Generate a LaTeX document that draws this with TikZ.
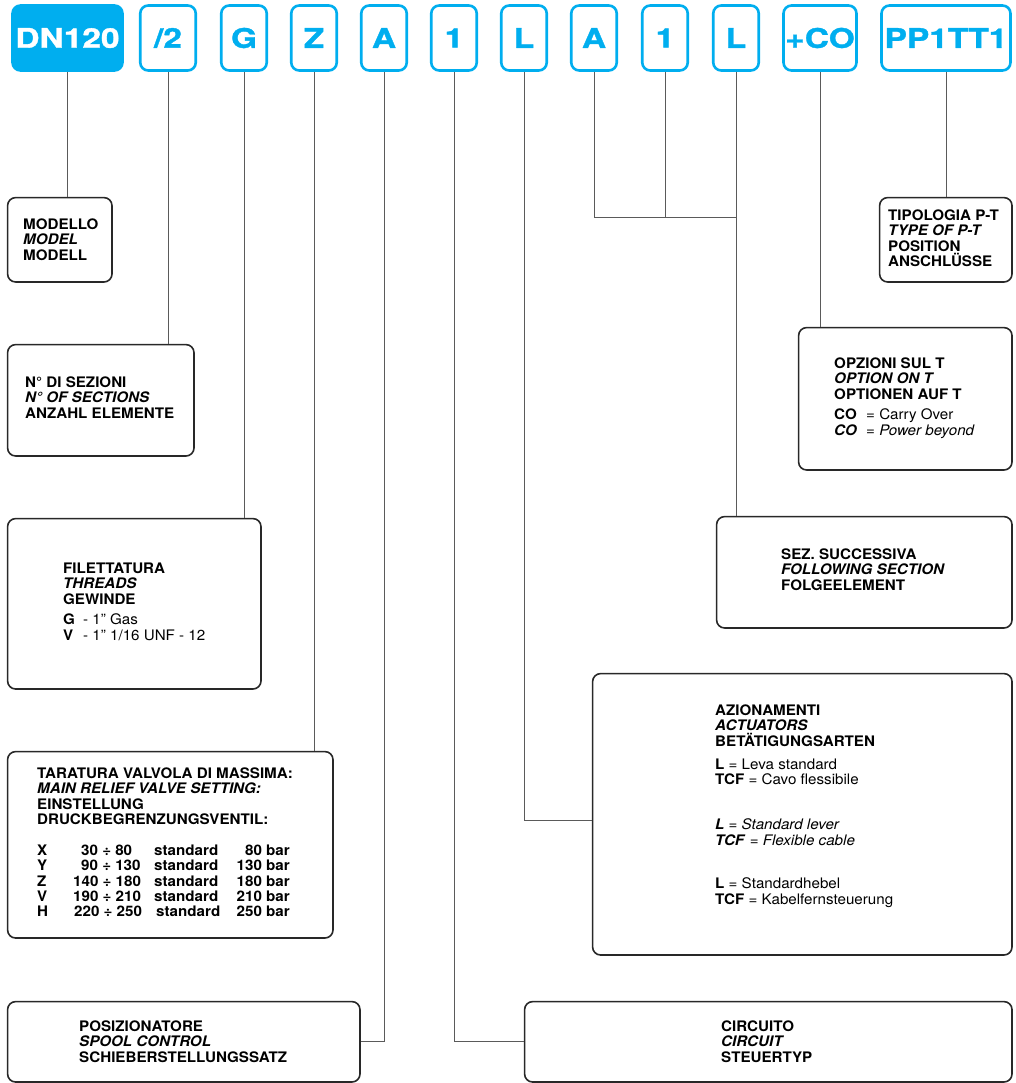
\documentclass[tikz,border=0pt]{standalone}
\usepackage{fontspec}
\setmainfont{TeX Gyre Heros}[FakeStretch=1.045]
\newfontfamily\codefont{TeX Gyre Heros}[FakeStretch=1.24, FakeBold=1.3]
\definecolor{cy}{RGB}{0,174,239}
\definecolor{boxc}{RGB}{40,40,40}
\definecolor{connc}{RGB}{90,90,90}
\begin{document}
\begin{tikzpicture}[x=1pt,y=-1pt,
  code/.style={draw=cy, line width=2.6pt, rounded corners=8pt, minimum height=65pt, inner sep=0pt, text=cy, font=\codefont\bfseries\fontsize{27}{27}\selectfont},
  codefill/.style={code, fill=cy, text=white},
  infobox/.style={draw=boxc, line width=1.6pt, rounded corners=8pt, anchor=north west, inner sep=0pt},
  txt/.style={anchor=north west, inner sep=0pt, align=left, font=\fontsize{14.5}{15.5}\selectfont\bfseries},
  row/.style={anchor=base west, inner sep=0pt, font=\fontsize{14.5}{15.5}\selectfont\bfseries},
  rowr/.style={anchor=base east, inner sep=0pt, font=\fontsize{14.5}{15.5}\selectfont\bfseries},
  conn/.style={draw=connc, line width=1pt}]
\useasboundingbox (0,0) rectangle (1016,1083);

% code boxes
\node[codefill, minimum width=110pt] (c1) at (67.5,38) {DN120};
\node[code, minimum width=55.5pt] (c2) at (168,38) {/2};
\node[code, minimum width=45.5pt] (c3) at (244,38) {G};
\node[code, minimum width=45.5pt] (c4) at (314,38) {Z};
\node[code, minimum width=45.5pt] (c5) at (384,38) {A};
\node[code, minimum width=45.5pt] (c6) at (454,38) {1};
\node[code, minimum width=45.5pt] (c7) at (524,38) {L};
\node[code, minimum width=45.5pt] (c8) at (594,38) {A};
\node[code, minimum width=45.5pt] (c9) at (665,38) {1};
\node[code, minimum width=45.5pt] (c10) at (736,38) {L};
\node[code, minimum width=73pt] (c11) at (820,38) {+CO};
\node[code, minimum width=129pt] (c12) at (946,38) {PP1TT1};

% info boxes
\node[infobox, minimum width=104.4pt, minimum height=84.4pt] (mod) at (6.8,196.8) {};
\node[infobox, minimum width=186.4pt, minimum height=111.4pt] (nsz) at (6.8,343.8) {};
\node[infobox, minimum width=253.4pt, minimum height=170.4pt] (fil) at (6.8,517.8) {};
\node[infobox, minimum width=325.4pt, minimum height=186.4pt] (tar) at (6.8,750.8) {};
\node[infobox, minimum width=352.4pt, minimum height=80.4pt] (pos) at (6.8,1000.8) {};
\node[infobox, minimum width=487.4pt, minimum height=80.4pt] (cir) at (523.8,1000.8) {};
\node[infobox, minimum width=419.4pt, minimum height=281.4pt] (azi) at (591.8,672.8) {};
\node[infobox, minimum width=295.4pt, minimum height=111.4pt] (suc) at (715.8,515.8) {};
\node[infobox, minimum width=213.4pt, minimum height=142.4pt] (opz) at (797.8,326.8) {};
\node[infobox, minimum width=132.4pt, minimum height=84.4pt] (tip) at (878.8,196.8) {};

% connectors
\coordinate (hj) at (0,218);
\draw[conn] (c1.south) -- (c1.south |- mod.north);
\draw[conn] (c2.south) -- (c2.south |- nsz.north);
\draw[conn] (c3.south) -- (c3.south |- fil.north);
\draw[conn] (c4.south) -- (c4.south |- tar.north);
\draw[conn] (c5.south) |- (pos.east);
\draw[conn] (c6.south) |- (cir.west);
\draw[conn] (c7.south) |- ([yshift=-6pt]azi.west);
\draw[conn] (c8.south) -- (c8.south |- hj) -- (c10.south |- hj);
\draw[conn] (c9.south) -- (c9.south |- hj);
\draw[conn] (c10.south) -- (c10.south |- suc.north);
\draw[conn] (c11.south) -- (c11.south |- opz.north);
\draw[conn] (c12.south) -- (c12.south |- tip.north);

% texts
\node[txt] (tmod) at (23,218.5) {MODELLO\\\textit{MODEL}\\MODELL};
\node[txt] (tnsz) at (25,376.5) {N° DI SEZIONI\\\textit{N° OF SECTIONS}\\ANZAHL ELEMENTE};
\node[txt] (tfil) at (63,562.5) {FILETTATURA\\\textit{THREADS}\\GEWINDE};
\node[txt] (tfil2) at (63,613.5) {\makebox[20pt][l]{G}\mdseries - 1” Gas\\\makebox[20pt][l]{\bfseries V}\mdseries - 1” 1/16 UNF - 12};
\node[txt] (ttar) at (37,767.5) {TARATURA VALVOLA DI MASSIMA:\\\textit{MAIN RELIEF VALVE SETTING:}\\EINSTELLUNG\\DRUCKBEGRENZUNGSVENTIL:};
\node[row] (rx1) at (37,855) {X};
\node[row] (rx2) at (81,855) {30 ÷ 80};
\node[row] (rx3) at (154,855) {standard};
\node[rowr] (rx4) at (290,855) {80 bar};
\node[row] (ry1) at (37,870) {Y};
\node[row] (ry2) at (81,870) {90 ÷ 130};
\node[row] (ry3) at (154,870) {standard};
\node[rowr] (ry4) at (290,870) {130 bar};
\node[row] (rz1) at (37,886) {Z};
\node[row] (rz2) at (73,886) {140 ÷ 180};
\node[row] (rz3) at (154,886) {standard};
\node[rowr] (rz4) at (290,886) {180 bar};
\node[row] (rv1) at (37,901) {V};
\node[row] (rv2) at (73,901) {190 ÷ 210};
\node[row] (rv3) at (154,901) {standard};
\node[rowr] (rv4) at (290,901) {210 bar};
\node[row] (rh1) at (37,916) {H};
\node[row] (rh2) at (74,916) {220 ÷ 250};
\node[row] (rh3) at (156,916) {standard};
\node[rowr] (rh4) at (290,916) {250 bar};
\node[txt] (tpos) at (79,1020.5) {POSIZIONATORE\\\textit{SPOOL CONTROL}\\SCHIEBERSTELLUNGSSATZ};
\node[txt] (tcir) at (721,1020.5) {CIRCUITO\\\textit{CIRCUIT}\\STEUERTYP};
\node[txt] (tazi) at (715,704.5) {AZIONAMENTI\\\textit{ACTUATORS}\\BETÄTIGUNGSARTEN};
\node[txt] (tazi1) at (715,758.5) {L \mdseries= Leva standard\\TCF \mdseries= Cavo flessibile};
\node[txt] (tazi2) at (715,818.5) {\textit{L} \mdseries= \textit{Standard lever}\\\textit{TCF} \mdseries= \textit{Flexible cable}};
\node[txt] (tazi3) at (715,877.5) {L \mdseries= Standardhebel\\TCF \mdseries= Kabelfernsteuerung};
\node[txt] (tsuc) at (781,548.5) {SEZ. SUCCESSIVA\\\textit{FOLLOWING SECTION}\\FOLGEELEMENT};
\node[txt] (topz) at (834,357.5) {OPZIONI SUL T\\\textit{OPTION ON T}\\OPTIONEN AUF T};
\node[txt] (topz2) at (834,408.5) {\makebox[32pt][l]{CO}\mdseries= Carry Over\\\makebox[32pt][l]{\bfseries\itshape CO}\mdseries= \textit{Power beyond}};
\node[txt] (ttip) at (888,209.5) {TIPOLOGIA P-T\\\textit{TYPE OF P-T}\\POSITION\\ANSCHLÜSSE};
\end{tikzpicture}
\end{document}
